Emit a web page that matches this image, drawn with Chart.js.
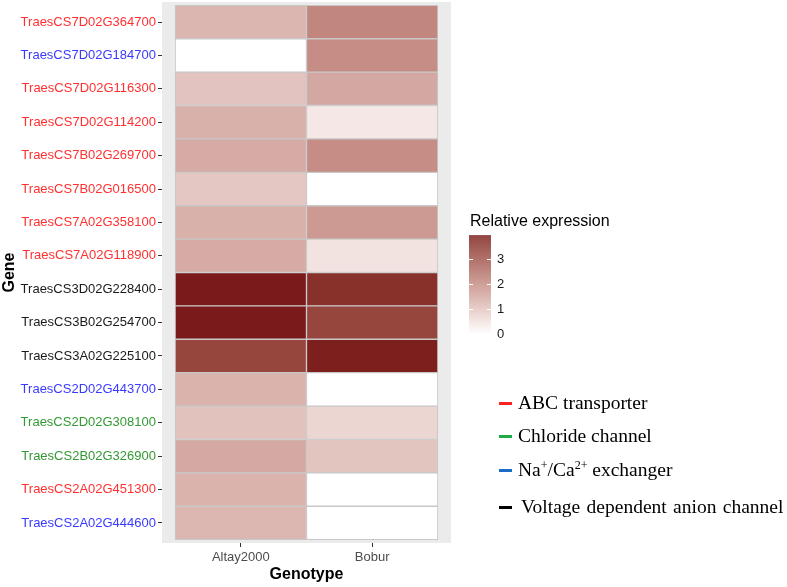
<!DOCTYPE html>
<html>
<head>
<meta charset="utf-8">
<script src="https://cdn.jsdelivr.net/npm/chart.js@4.4.1/dist/chart.umd.min.js"></script>
<style>
  body { margin: 0; background: #fff; }
  #wrap { position: relative; width: 787px; height: 587px; }
  #heat { position: absolute; left: 0; top: 0; }
  .key { position: absolute; left: 499px; height: 24px; display: flex; align-items: center;
         font-family: "Liberation Serif", "Times New Roman", serif; font-size: 19.5px; color: #000; white-space: nowrap; }
  .key span.mark { display: inline-block; width: 13px; height: 3px; margin-right: 6px; }
  .key sup { font-size: 12px; line-height: 0; }
</style>
</head>
<body>
<div id="wrap">
  <canvas id="heat" width="787" height="587"></canvas>
  <div class="key" style="top:391px"><span class="mark" style="background:#ff2020"></span><span>ABC transporter</span></div>
  <div class="key" style="top:424px"><span class="mark" style="background:#1faa48"></span><span>Chloride channel</span></div>
  <div class="key" style="top:458px"><span class="mark" style="background:#1a6cc4"></span><span>Na<sup>+</sup>/Ca<sup>2+</sup> exchanger</span></div>
  <div class="key" style="top:495px"><span class="mark" style="background:#000;margin-right:9px"></span><span style="word-spacing:1.5px">Voltage dependent anion channel</span></div>
</div>
<script>
// data
const genes = [
  "TraesCS7D02G364700", "TraesCS7D02G184700", "TraesCS7D02G116300", "TraesCS7D02G114200",
  "TraesCS7B02G269700", "TraesCS7B02G016500", "TraesCS7A02G358100", "TraesCS7A02G118900",
  "TraesCS3D02G228400", "TraesCS3B02G254700", "TraesCS3A02G225100", "TraesCS2D02G443700",
  "TraesCS2D02G308100", "TraesCS2B02G326900", "TraesCS2A02G451300", "TraesCS2A02G444600"
];
const geneFamily = [
  "abc", "exch", "abc", "abc", "abc", "abc", "abc", "abc",
  "vdac", "vdac", "vdac", "exch", "chl", "chl", "abc", "exch"
];
const genotypes = ["Altay2000", "Bobur"];
const altay2000 = [1.25, 0, 1.0, 1.32, 1.42, 0.95, 1.32, 1.42, 3.95, 3.95, 3.23, 1.28, 1.02, 1.45, 1.28, 1.22];
const bobur = [2.07, 1.95, 1.47, 0.4, 1.95, 0, 1.72, 0.46, 3.6, 3.23, 3.88, 0, 0.69, 0.98, 0, 0];
const colorbarTicks = [0, 1, 2, 3];
const fillMin = 0, fillMax = 3.95;

const familyColor = { abc: "#ff3030", exch: "#3a3aff", chl: "#339933", vdac: "#1a1a1a" };

// white -> dark red gradient, interpolated in Lab like ggplot
function hexToLab(hex) {
  const c = [1, 3, 5].map(i => parseInt(hex.substr(i, 2), 16) / 255)
    .map(v => v <= 0.04045 ? v / 12.92 : Math.pow((v + 0.055) / 1.055, 2.4));
  const X = (c[0] * 0.4124 + c[1] * 0.3576 + c[2] * 0.1805) / 0.95047;
  const Y = c[0] * 0.2126 + c[1] * 0.7152 + c[2] * 0.0722;
  const Z = (c[0] * 0.0193 + c[1] * 0.1192 + c[2] * 0.9505) / 1.08883;
  const f = t => t > 0.008856 ? Math.cbrt(t) : 7.787 * t + 16 / 116;
  return [116 * f(Y) - 16, 500 * (f(X) - f(Y)), 200 * (f(Y) - f(Z))];
}
function labToRgb(L, a, b) {
  const fy = (L + 16) / 116, fx = fy + a / 500, fz = fy - b / 200;
  const g = t => t * t * t > 0.008856 ? t * t * t : (t - 16 / 116) / 7.787;
  const X = g(fx) * 0.95047, Y = g(fy), Z = g(fz) * 1.08883;
  const lin = [
    X * 3.2406 - Y * 1.5372 - Z * 0.4986,
    -X * 0.9689 + Y * 1.8758 + Z * 0.0415,
    X * 0.0557 - Y * 0.2040 + Z * 1.0570
  ];
  const s = lin.map(v => v <= 0.0031308 ? 12.92 * v : 1.055 * Math.pow(v, 1 / 2.4) - 0.055)
    .map(v => Math.round(Math.max(0, Math.min(1, v)) * 255));
  return "rgb(" + s.join(",") + ")";
}
const lowLab = hexToLab("#ffffff"), highLab = hexToLab("#7a1a1a");
function fillColor(v) {
  const t = Math.max(0, Math.min(1, (v - fillMin) / (fillMax - fillMin)));
  return labToRgb(...lowLab.map((l, i) => l + (highLab[i] - l) * t));
}

const panelBg = {
  id: "panelBg",
  beforeDraw(chart) {
    const { ctx, chartArea: a } = chart;
    ctx.save();
    ctx.fillStyle = "#ebebeb";
    ctx.fillRect(a.left, a.top, a.right - a.left, a.bottom - a.top);
    ctx.restore();
  }
};

const colorbar = {
  id: "colorbar",
  afterDraw(chart) {
    const ctx = chart.ctx;
    const x = 469, w = 22, bottom = 334, unit = 25;
    const top = bottom - (fillMax - fillMin) * unit;
    ctx.save();
    for (let y = top; y < bottom; y++) {
      ctx.fillStyle = fillColor(fillMax - (y - top + 0.5) / unit);
      ctx.fillRect(x, y, w, 1);
    }
    ctx.font = "16px 'Liberation Sans', Arial, sans-serif";
    ctx.fillStyle = "#000";
    ctx.textBaseline = "middle";
    ctx.fillText("Relative expression", 470, 222);
    ctx.font = "13px 'Liberation Sans', Arial, sans-serif";
    ctx.fillStyle = "#1a1a1a";
    ctx.strokeStyle = "#fff";
    ctx.lineWidth = 1;
    colorbarTicks.forEach(t => {
      const y = Math.round(bottom - (t - fillMin) * unit) + 0.5;
      ctx.beginPath();
      ctx.moveTo(x, y); ctx.lineTo(x + 4, y);
      ctx.moveTo(x + w - 4, y); ctx.lineTo(x + w, y);
      ctx.stroke();
      ctx.fillText(String(t), x + w + 6, y);
    });
    ctx.restore();
  }
};

const datasets = [altay2000, bobur].map((vals, j) => ({
  label: genotypes[j],
  data: genes.map((g, i) => ({ x: [j, j + 1], y: i + 0.5 })),
  backgroundColor: vals.map(fillColor),
  borderColor: "#c8c8c8",
  borderWidth: 1,
  borderSkipped: false,
  grouped: false,
  barPercentage: 1,
  categoryPercentage: 1
}));

const sans = "'Liberation Sans', Arial, sans-serif";

new Chart(document.getElementById("heat").getContext("2d"), {
  type: "bar",
  data: { datasets },
  options: {
    indexAxis: "y",
    responsive: false,
    animation: false,
    devicePixelRatio: 1,
    layout: { padding: { top: 2, right: 336, bottom: 0, left: 0 } },
    plugins: { legend: { display: false }, tooltip: { enabled: false } },
    scales: {
      x: {
        type: "linear",
        min: -0.1,
        max: 2.1,
        offset: false,
        afterBuildTicks: s => { s.ticks = genotypes.map((g, j) => ({ value: j + 0.5 })); },
        afterFit: s => { s.height = 44; s.paddingLeft = 0; s.paddingRight = 0; },
        ticks: {
          autoSkip: false,
          maxRotation: 0,
          padding: 3,
          color: "#4d4d4d",
          font: { family: sans, size: 13 },
          callback: (v, i) => genotypes[i]
        },
        grid: { offset: false, drawOnChartArea: false, drawTicks: true, tickLength: 4, tickColor: "#333" },
        border: { display: false },
        title: { display: true, text: "Genotype", color: "#000", padding: { top: 0, bottom: 3 },
                 font: { family: sans, size: 16, weight: "bold" } }
      },
      y: {
        type: "linear",
        reverse: true,
        min: -0.1,
        max: 16.1,
        offset: false,
        afterBuildTicks: s => { s.ticks = genes.map((g, i) => ({ value: i + 0.5 })); },
        afterFit: s => { s.width = 162; s.paddingTop = 0; s.paddingBottom = 0; },
        ticks: {
          autoSkip: false,
          padding: 2,
          font: { family: sans, size: 13 },
          color: c => familyColor[geneFamily[c.index]],
          callback: (v, i) => genes[i]
        },
        grid: { offset: false, drawOnChartArea: false, drawTicks: true, tickLength: 4, tickColor: "#333" },
        border: { display: false },
        title: { display: true, text: "Gene", color: "#000", padding: { top: 0, bottom: 0 },
                 font: { family: sans, size: 16, weight: "bold" } }
      }
    }
  },
  plugins: [panelBg, colorbar]
});
</script>
</body>
</html>
